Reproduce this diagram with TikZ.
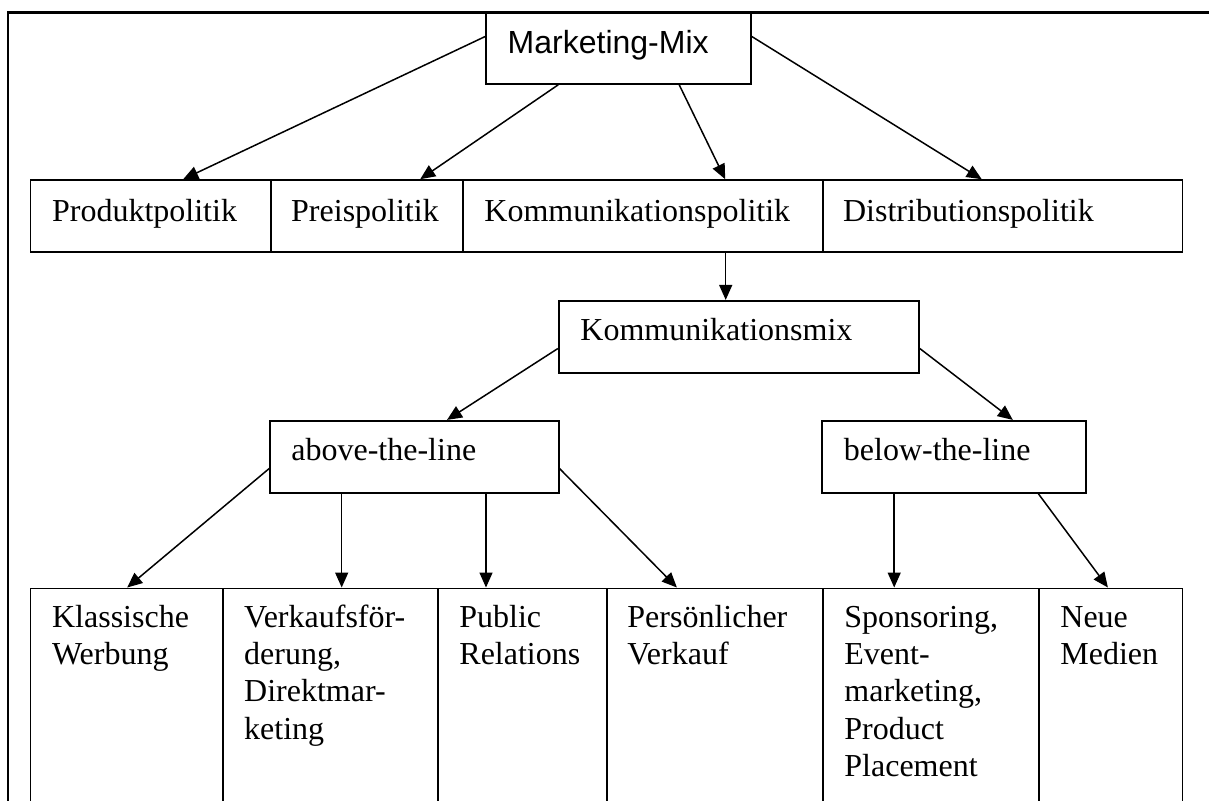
\documentclass[tikz,border=0pt]{standalone}
\usepackage{fontspec}
\setmainfont{Liberation Serif}
\newfontfamily\arialfont{Liberation Sans}
\usetikzlibrary{arrows.meta,fit,calc}
\tikzset{
  cell/.style={draw, line width=0.8pt, inner sep=0pt},
  txt/.style={inner sep=0pt, anchor=base west, font=\fontsize{16pt}{18.65pt}\selectfont},
  sanstxt/.style={txt, font=\fontsize{16pt}{18.65pt}\arialfont},
  arr/.style={-{Triangle[length=7.5pt,width=6.5pt]}, line width=0.75pt},
  frameline/.style={line width=1.1pt}
}
\newcommand{\cellrows}[1]{\begin{tabular}[t]{@{}l@{}}#1\end{tabular}}
\begin{document}
\begin{tikzpicture}[x=0.5pt,y=-0.5pt]
\clip (0,0) rectangle (1209,800);
\fill[white] (0,0) rectangle (1209,800);
\draw[frameline] (8,840) -- (8,12.5) -- (1240,12.5);

% boxes
\node[cell, fit={(486,12.5) (751,84)}] (mm) {};
\node[cell, fit={(30.6,180) (271,251.7)}] (prod) {};
\node[cell, fit={(271,180) (463,251.7)}] (preis) {};
\node[cell, fit={(463,180) (823,251.7)}] (komm) {};
\node[cell, fit={(823,180) (1182.5,251.7)}] (distr) {};
\node[cell, fit={(558.7,300.7) (919,372.7)}] (km) {};
\node[cell, fit={(270,420.7) (558.7,492.7)}] (atl) {};
\node[cell, fit={(822,420.7) (1086,492.7)}] (btl) {};
\node[cell, fit={(30.6,588.3) (222.7,840)}] (kw) {};
\node[cell, fit={(222.7,588.3) (438,840)}] (vk) {};
\node[cell, fit={(438,588.3) (607,840)}] (pr) {};
\node[cell, fit={(607,588.3) (823,840)}] (pv) {};
\node[cell, fit={(823,588.3) (1039,840)}] (sp) {};
\node[cell, fit={(1039,588.3) (1182.5,840)}] (nm) {};

% texts
\node[sanstxt] (mmt) at (507.3,53.3) {Marketing-Mix};
\node[txt] (prodt) at (51.7,221) {Produktpolitik};
\node[txt] (preist) at (290.8,221) {Preispolitik};
\node[txt] (kommt) at (484,221) {Kommunikationspolitik};
\node[txt] (distrt) at (842.7,221) {Distributionspolitik};
\node[txt] (kmt) at (580,340) {Kommunikationsmix};
\node[txt] (atlt) at (291,460) {above-the-line};
\node[txt] (btlt) at (843.5,460) {below-the-line};
\node[txt] (kwt) at (51.7,627.3) {\cellrows{Klassische\\Werbung}};
\node[txt] (vkt) at (243.8,627.3) {\cellrows{Verkaufsför-\\derung,\\Direktmar-\\keting}};
\node[txt] (prt) at (459,627.3) {\cellrows{Public\\Relations}};
\node[txt] (pvt) at (627,627.3) {\cellrows{Persönlicher\\Verkauf}};
\node[txt] (spt) at (844,627.3) {\cellrows{Sponsoring,\\Event-\\marketing,\\Product\\Placement}};
\node[txt] (nmt) at (1060,627.3) {\cellrows{Neue\\Medien}};

% connectors
\draw[arr] ([yshift=-12.4pt]mm.north west) -- ([xshift=76.7pt]prod.north west);
\draw[arr] ([xshift=36.5pt]mm.south west) -- ([xshift=75pt]preis.north west);
\draw[arr] ([xshift=97pt]mm.south west) -- ([xshift=131.5pt]komm.north west);
\draw[arr] ([yshift=-12.4pt]mm.north east) -- ([xshift=79.75pt]distr.north west);
\draw[arr] ([xshift=131.75pt]komm.south west) -- ([xshift=131.75pt]komm.south west |- km.north);
\draw[arr] ([yshift=-24.3pt]km.north west) -- ([xshift=88.9pt]atl.north west);
\draw[arr] ([yshift=-24.3pt]km.north east) -- ([xshift=95.8pt]btl.north west);
\draw[arr] ([yshift=-24.3pt]atl.north west) -- ([xshift=48.7pt]kw.north west);
\draw[arr] ([xshift=36.25pt]atl.south west) -- ([xshift=36.25pt]atl.south west |- vk.north);
\draw[arr] ([xshift=108.4pt]atl.south west) -- ([xshift=108.4pt]atl.south west |- pr.north);
\draw[arr] ([yshift=-24.3pt]atl.north east) -- ([xshift=35.35pt]pv.north west);
\draw[arr] ([xshift=36.5pt]btl.south west) -- ([xshift=36.5pt]btl.south west |- sp.north);
\draw[arr] ([xshift=108.5pt]btl.south west) -- ([xshift=34.85pt]nm.north west);
\end{tikzpicture}
\end{document}
